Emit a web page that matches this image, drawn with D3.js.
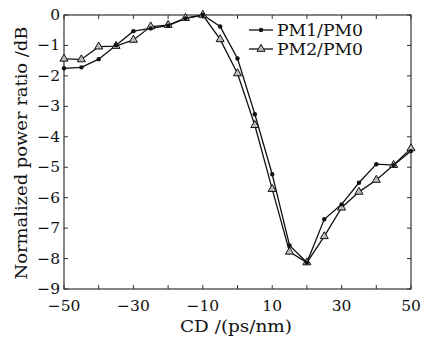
<!DOCTYPE html>
<html>
<head>
<meta charset="utf-8">
<script src="https://cdn.jsdelivr.net/npm/d3@7"></script>
<style>
  body { margin: 0; background: #fff; }
  text { font-family: "DejaVu Serif", serif; fill: #111; }
</style>
</head>
<body>
<div id="chart"></div>
<script>
var cd = [-50, -45, -40, -35, -30, -25, -20, -15, -10, -5, 0, 5, 10, 15, 20, 25, 30, 35, 40, 45, 50];
var pm1 = [-1.75, -1.72, -1.45, -0.99, -0.53, -0.44, -0.35, -0.11, 0, -0.38, -1.43, -3.26, -5.23, -7.57, -8.13, -6.71, -6.22, -5.51, -4.9, -4.93, -4.47];
var pm2 = [-1.44, -1.46, -1.04, -1.02, -0.82, -0.38, -0.33, -0.1, 0, -0.8, -1.92, -3.62, -5.72, -7.78, -8.13, -7.27, -6.33, -5.81, -5.42, -4.93, -4.38];
var xTicks = [-50, -30, -10, 10, 30, 50];
var yTicks = [0, -1, -2, -3, -4, -5, -6, -7, -8, -9];
var seriesNames = ["PM1/PM0", "PM2/PM0"];

var width = 422, height = 340;
var margin = { top: 15, right: 11, bottom: 51, left: 64 };

var svg = d3.select("#chart").append("svg")
  .attr("width", width)
  .attr("height", height);

var x = d3.scaleLinear().domain([-50, 50]).range([margin.left, width - margin.right]);
var y = d3.scaleLinear().domain([-9, 0]).range([height - margin.bottom, margin.top]);

var axisColor = "#333";

// frame
svg.append("rect")
  .attr("x", x(-50)).attr("y", y(0))
  .attr("width", x(50) - x(-50)).attr("height", y(-9) - y(0))
  .attr("fill", "none").attr("stroke", axisColor).attr("stroke-width", 1.2);

// inward ticks on all four sides
var xMinor = d3.range(-50, 51, 10);
svg.selectAll(".xt").data(xMinor).enter().append("line")
  .attr("x1", d => x(d)).attr("x2", d => x(d))
  .attr("y1", y(-9)).attr("y2", y(-9) - 4)
  .attr("stroke", axisColor);
svg.selectAll(".xtt").data(xMinor).enter().append("line")
  .attr("x1", d => x(d)).attr("x2", d => x(d))
  .attr("y1", y(0)).attr("y2", y(0) + 4)
  .attr("stroke", axisColor);
svg.selectAll(".yt").data(yTicks).enter().append("line")
  .attr("x1", x(-50)).attr("x2", x(-50) + 4)
  .attr("y1", d => y(d)).attr("y2", d => y(d))
  .attr("stroke", axisColor);
svg.selectAll(".ytr").data(yTicks).enter().append("line")
  .attr("x1", x(50)).attr("x2", x(50) - 4)
  .attr("y1", d => y(d)).attr("y2", d => y(d))
  .attr("stroke", axisColor);

var fmt = d3.format("");
svg.selectAll(".xl").data(xTicks).enter().append("text")
  .attr("x", d => x(d)).attr("y", y(-9) + 22)
  .attr("text-anchor", "middle")
  .attr("font-size", 15.5)
  .text(d => fmt(d));
svg.selectAll(".yl").data(yTicks).enter().append("text")
  .attr("x", x(-50) - 4).attr("y", d => y(d) + 5)
  .attr("text-anchor", "end")
  .attr("font-size", 15.5)
  .text(d => fmt(d));

// axis titles
svg.append("text")
  .attr("x", 236).attr("y", 332)
  .attr("text-anchor", "middle")
  .attr("font-size", 16)
  .attr("textLength", 112).attr("lengthAdjust", "spacingAndGlyphs")
  .text("CD /(ps/nm)");
svg.append("text")
  .attr("transform", "translate(27,153) rotate(-90)")
  .attr("text-anchor", "middle")
  .attr("font-size", 16)
  .attr("textLength", 253).attr("lengthAdjust", "spacingAndGlyphs")
  .text("Normalized power ratio /dB");

var lineGen = d3.line().x((d, i) => x(cd[i])).y(d => y(d));
var lineColor = "#111";

[pm1, pm2].forEach(function(s) {
  svg.append("path").datum(s)
    .attr("d", lineGen)
    .attr("fill", "none")
    .attr("stroke", lineColor)
    .attr("stroke-width", 1.3);
});

var tri = d3.symbol().type(d3.symbolTriangle).size(28);

svg.selectAll(".p2").data(pm2).enter().append("path")
  .attr("d", tri)
  .attr("transform", (d, i) => "translate(" + x(cd[i]) + "," + y(d) + ")")
  .attr("fill", "#bbb").attr("stroke", lineColor).attr("stroke-width", 1);

svg.selectAll(".p1").data(pm1).enter().append("circle")
  .attr("cx", (d, i) => x(cd[i])).attr("cy", d => y(d))
  .attr("r", 2.2).attr("fill", lineColor);

// legend
var leg = svg.append("g");
seriesNames.forEach(function(name, i) {
  var ly = 30 + i * 19;
  leg.append("line")
    .attr("x1", 249).attr("x2", 273).attr("y1", ly).attr("y2", ly)
    .attr("stroke", lineColor).attr("stroke-width", 1.3);
  if (i === 0) {
    leg.append("circle").attr("cx", 261).attr("cy", ly).attr("r", 2.2).attr("fill", lineColor);
  } else {
    leg.append("path").attr("d", tri)
      .attr("transform", "translate(261," + ly + ")")
      .attr("fill", "#bbb").attr("stroke", lineColor).attr("stroke-width", 1);
  }
  leg.append("text")
    .attr("x", 277).attr("y", ly + 6)
    .attr("font-size", 16)
    .attr("textLength", 86).attr("lengthAdjust", "spacingAndGlyphs")
    .text(name);
});
</script>
</body>
</html>
